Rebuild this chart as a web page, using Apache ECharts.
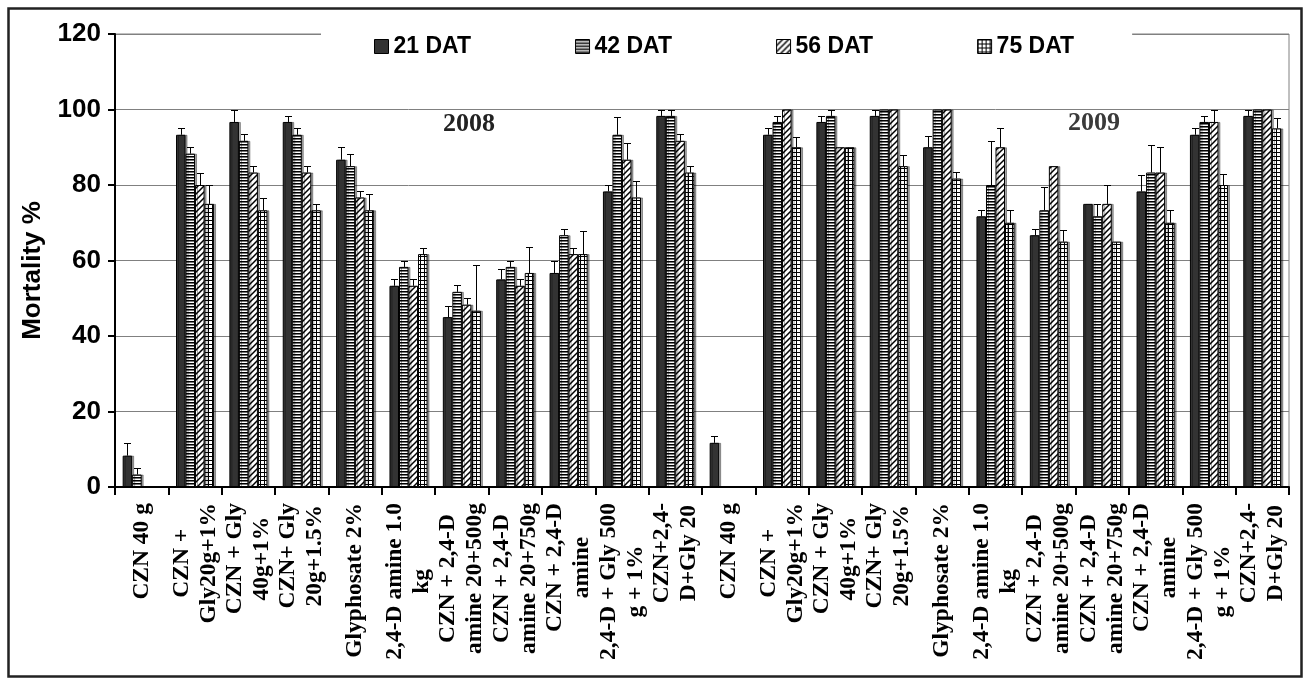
<!DOCTYPE html>
<html>
<head>
<meta charset="utf-8">
<script src="https://cdn.jsdelivr.net/npm/echarts@6/dist/echarts.min.js"></script>
<style>
html,body{margin:0;padding:0;background:#fff;}
#chart{width:1304px;height:679px;}
</style>
</head>
<body>
<div id="chart"></div>
<script>
// ---- data ----
var categories = [
  "CZN 40 g", "CZN +\nGly20g+1%", "CZN + Gly\n40g+1%", "CZN+ Gly\n20g+1.5%", "Glyphosate 2%",
  "2,4-D amine 1.0\nkg", "CZN + 2,4-D\namine 20+500g", "CZN + 2,4-D\namine 20+750g", "CZN + 2,4-D\namine",
  "2,4-D + Gly 500\ng + 1%", "CZN+2,4-\nD+Gly 20",
  "CZN 40 g ", "CZN +\nGly20g+1% ", "CZN + Gly\n40g+1% ", "CZN+ Gly\n20g+1.5% ", "Glyphosate 2% ",
  "2,4-D amine 1.0\nkg ", "CZN + 2,4-D\namine 20+500g ", "CZN + 2,4-D\namine 20+750g ", "CZN + 2,4-D\namine ",
  "2,4-D + Gly 500\ng + 1% ", "CZN+2,4-\nD+Gly 20 "
];
var seriesNames = ["21 DAT", "42 DAT", "56 DAT", "75 DAT"];
var dat21 = [8.3, 93.3, 96.7, 96.7, 86.7, 53.3, 45, 55, 56.7, 78.3, 98.3, 11.7, 93.3, 96.7, 98.3, 90, 71.7, 66.7, 75, 78.3, 93.3, 98.3];
var err21 = [3.3, 1.7, 3.3, 1.7, 3.3, 1.7, 2.9, 2.7, 3.3, 1.7, 1.7, 1.7, 1.7, 1.7, 1.7, 2.9, 1.7, 1.7, 0, 4.4, 1.7, 1.7];
var dat42 = [3.3, 88.3, 91.7, 93.3, 85, 58.3, 51.7, 58.3, 66.7, 93.3, 98.3, 0, 96.7, 98.3, 100, 100, 80, 73.3, 71.7, 83.3, 96.7, 100];
var err42 = [1.7, 1.7, 1.7, 1.7, 3.3, 1.7, 1.7, 1.7, 1.7, 4.7, 1.7, 0, 1.7, 1.7, 0, 0, 11.7, 6.3, 3.3, 7.4, 1.7, 0];
var dat56 = [0, 80, 83.3, 83.3, 76.7, 53.3, 48.3, 53.3, 61.7, 86.7, 91.7, 0, 100, 90, 100, 100, 90, 85, 75, 83.3, 96.7, 100];
var err56 = [0, 3.3, 1.7, 1.7, 1.7, 1.7, 1.7, 1.7, 1.7, 4.4, 1.7, 0, 0, 0, 0, 0, 5, 0, 5, 6.7, 3.3, 0];
var dat75 = [0, 75, 73.3, 73.3, 73.3, 61.7, 46.7, 56.7, 61.7, 76.7, 83.3, 0, 90, 90, 85, 81.7, 70, 65, 65, 70, 80, 95];
var err75 = [0, 5, 3.3, 1.7, 4.4, 1.7, 12, 6.9, 6, 4.4, 1.7, 0, 2.8, 0, 3, 1.7, 3.3, 3, 0, 3.3, 3, 2.8];
var yTicks = {min: 0, max: 120, interval: 20};
var yearLabels = ["2008", "2009"];

// ---- patterns ----
function mk(w, h, draw) {
  var c = document.createElement('canvas'); c.width = w; c.height = h;
  var g = c.getContext('2d'); g.fillStyle = '#fff'; g.fillRect(0, 0, w, h);
  g.fillStyle = '#000'; g.strokeStyle = '#000'; draw(g); return c;
}
var patH = mk(4, 3, function (g) { g.fillRect(0, 0, 4, 1); g.fillStyle = '#777'; g.fillRect(0, 1, 4, 1); g.fillStyle = '#000'; });
var patD = mk(6, 6, function (g) {
  g.lineWidth = 1.5;
  g.beginPath();
  g.moveTo(-1, 7); g.lineTo(7, -1);
  g.moveTo(-4, 4); g.lineTo(4, -4);
  g.moveTo(2, 10); g.lineTo(10, 2);
  g.stroke();
});
var patG = mk(4, 4, function (g) { g.fillRect(0, 0, 4, 1); g.fillRect(0, 0, 1, 4); });

var fills = ['#333333', {image: patH, repeat: 'repeat'}, {image: patD, repeat: 'repeat'}, {image: patG, repeat: 'repeat'}];
var vals = [dat21, dat42, dat56, dat75];
var errs = [err21, err42, err56, err75];
var catGap = 0.287;

var chart = echarts.init(document.getElementById('chart'), null, {renderer: 'canvas'});

var series = [];
for (var s = 0; s < 4; s++) {
  series.push({
    name: seriesNames[s], type: 'bar', data: vals[s],
    barGap: '0%', barCategoryGap: (catGap * 100) + '%',
    itemStyle: {color: fills[s], borderColor: '#000', borderWidth: 1,
      shadowColor: 'rgba(0,0,0,0.35)', shadowOffsetX: 2, shadowOffsetY: 0, shadowBlur: 0},
    emphasis: {disabled: true}, animation: false, z: 2
  });
}
for (var s2 = 0; s2 < 4; s2++) {
  (function (si) {
    var d = vals[si].map(function (v, i) { return [i, v, errs[si][i]]; });
    series.push({
      type: 'custom', name: 'err' + si, data: d, z: 3, animation: false, silent: true,
      renderItem: function (params, api) {
        var idx = api.value(0), v = api.value(1), e = api.value(2);
        if (!e) return null;
        var base = api.coord([idx, v]);
        var top = api.coord([idx, v + e]);
        var band = api.size([1, 0])[0];
        var bw = band * (1 - catGap) / 4;
        var x = Math.round(base[0] + (si - 1.5) * bw) + 0.5;
        var yt = Math.round(top[1]) + 0.5;
        return {type: 'group', children: [
          {type: 'line', shape: {x1: x, y1: base[1], x2: x, y2: yt}, style: {stroke: '#000', lineWidth: 1}},
          {type: 'line', shape: {x1: x - 3.5, y1: yt, x2: x + 3.5, y2: yt}, style: {stroke: '#000', lineWidth: 1}}
        ]};
      }
    });
  })(s2);
}

var option = {
  backgroundColor: '#fff',
  animation: false,
  grid: {left: 115, right: 15, top: 34, bottom: 192, show: true, borderColor: '#808080', borderWidth: 1, backgroundColor: 'transparent'},
  legend: {
    data: seriesNames, left: 321, top: 21, padding: [14, 58, 14, 53],
    backgroundColor: '#fff', itemWidth: 14, itemHeight: 14, itemGap: 104, icon: 'rect',
    textStyle: {fontFamily: 'Liberation Sans', fontWeight: 'bold', fontSize: 23, color: '#000'},
    itemStyle: {borderColor: '#000', borderWidth: 1}
  },
  xAxis: {
    type: 'category', data: categories, boundaryGap: true,
    axisLine: {lineStyle: {color: '#000', width: 2}},
    axisTick: {show: true, length: 8, lineStyle: {color: '#000', width: 2}, alignWithLabel: false, interval: 0},
    axisLabel: {
      interval: 0, rotate: 90, margin: 16, hideOverlap: false,
      formatter: function (v) { return '{c|' + v.trim() + '}'; },
      rich: {c: {align: 'center', fontFamily: 'Liberation Serif', fontWeight: 'bold', fontSize: 23.5, lineHeight: 27, color: '#000'}}
    },
    splitLine: {show: false}
  },
  yAxis: {
    type: 'value', min: yTicks.min, max: yTicks.max, interval: yTicks.interval,
    name: 'Mortality %', nameLocation: 'middle', nameGap: 69,
    nameTextStyle: {fontFamily: 'Liberation Sans', fontWeight: 'bold', fontSize: 26, color: '#000', padding: [0, 20, 0, 0]},
    axisLine: {show: true, lineStyle: {color: '#000', width: 2}},
    axisTick: {show: true, length: 7, lineStyle: {color: '#000', width: 2}},
    axisLabel: {margin: 14, fontFamily: 'Liberation Sans', fontWeight: 'bold', fontSize: 26, color: '#000'},
    splitLine: {show: true, lineStyle: {color: '#808080', width: 1}}
  },
  graphic: [
    {type: 'rect', left: 6, top: 6, shape: {width: 1293, height: 668}, style: {fill: null, stroke: '#222', lineWidth: 2.5}, z: 100},
    {type: 'text', left: 443, top: 111, style: {text: yearLabels[0], font: 'bold 26px "Liberation Serif"', fill: '#222'}, z: 50},
    {type: 'text', left: 1068, top: 110, style: {text: yearLabels[1], font: 'bold 26px "Liberation Serif"', fill: '#3a3a3a'}, z: 50}
  ],
  series: series
};
chart.setOption(option);
</script>
</body>
</html>
